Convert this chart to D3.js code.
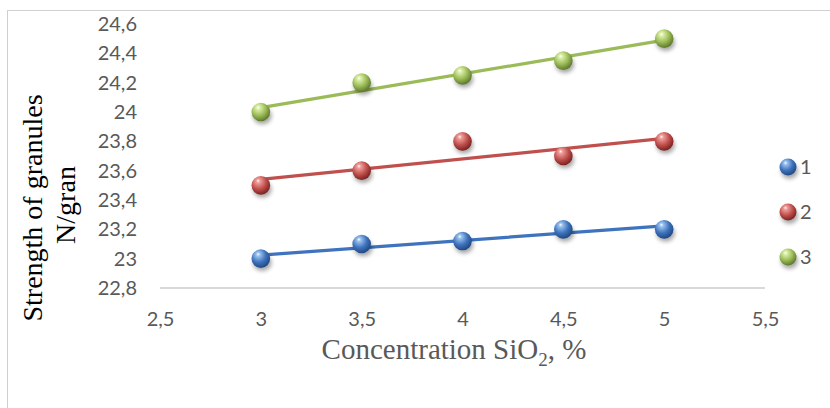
<!DOCTYPE html>
<html><head><meta charset="utf-8">
<script src="https://cdn.jsdelivr.net/npm/d3@7/dist/d3.min.js"></script>
<style>html,body{margin:0;padding:0;background:#fff;}</style>
</head><body>
<svg id="c" width="830" height="408"></svg>
<script>
const xValues = [3, 3.5, 4, 4.5, 5];
const series1 = [23.0, 23.1, 23.12, 23.2, 23.2];
const series2 = [23.5, 23.6, 23.8, 23.7, 23.8];
const series3 = [24.0, 24.2, 24.25, 24.35, 24.5];
const seriesNames = ["1", "2", "3"];
const seriesColors = ["#3f73bd", "#c0504d", "#9bbb59"];
const seriesLight = ["#9cc3f0", "#f0a09c", "#dcf0a8"];
const seriesDark = ["#1f4a85", "#7e2220", "#5f7a2a"];
const xTicks = [2.5, 3, 3.5, 4, 4.5, 5, 5.5];
const yTicks = [22.8, 23, 23.2, 23.4, 23.6, 23.8, 24, 24.2, 24.4, 24.6];

const svg = d3.select("#c");
const x = d3.scaleLinear().domain([2.5, 5.5]).range([160, 765]);
const y = d3.scaleLinear().domain([22.8, 24.6]).range([288, 24]);
const fmt = v => String(v).replace(".", ",");
const sans = "Lato, 'Open Sans', sans-serif";
const serif = "'Liberation Serif', 'Times New Roman', serif";

// outer border
svg.append("rect").attr("x", 7.5).attr("y", 10.5).attr("width", 830).attr("height", 410)
  .attr("fill", "none").attr("stroke", "#d0d0d0").attr("stroke-width", 1);

const defs = svg.append("defs");
seriesColors.forEach((c, i) => {
  const g = defs.append("radialGradient").attr("id", "g" + i)
    .attr("cx", "40%").attr("cy", "35%").attr("r", "65%").attr("fx", "35%").attr("fy", "25%");
  g.append("stop").attr("offset", "0%").attr("stop-color", "#ffffff");
  g.append("stop").attr("offset", "15%").attr("stop-color", seriesLight[i]);
  g.append("stop").attr("offset", "60%").attr("stop-color", c);
  g.append("stop").attr("offset", "100%").attr("stop-color", seriesDark[i]);
});
const f = defs.append("filter").attr("id", "sh").attr("x", "-50%").attr("y", "-50%").attr("width", "200%").attr("height", "200%");
f.append("feGaussianBlur").attr("stdDeviation", 2.2);

// x axis line
svg.append("line").attr("x1", x(2.5)).attr("x2", x(5.5)).attr("y1", y(22.8)).attr("y2", y(22.8))
  .attr("stroke", "#d9d9d9").attr("stroke-width", 2);

// y axis labels
const yAxis = d3.axisLeft(y).tickValues(yTicks).tickFormat(fmt).tickSize(0).tickPadding(0);
const yg = svg.append("g").attr("transform", "translate(137,0)").call(yAxis);
yg.select(".domain").remove();
yg.selectAll("text").attr("font-family", sans).attr("font-size", 20).attr("fill", "#595959");

const xAxis = d3.axisBottom(x).tickValues(xTicks).tickFormat(fmt).tickSize(0).tickPadding(0);
const xg = svg.append("g").attr("transform", "translate(0,312)").call(xAxis);
xg.select(".domain").remove();
xg.selectAll("text").attr("font-family", sans).attr("font-size", 20).attr("fill", "#595959");

// regression trendlines
const allSeries = [series1, series2, series3];
function linreg(xs, ys) {
  const mx = d3.mean(xs), my = d3.mean(ys);
  const b = d3.sum(xs, (v, i) => (v - mx) * (ys[i] - my)) / d3.sum(xs, v => (v - mx) * (v - mx));
  return [b, my - b * mx];
}
allSeries.forEach((s, i) => {
  const [b, a] = linreg(xValues, s);
  const x0 = d3.min(xValues), x1 = d3.max(xValues);
  svg.append("line").attr("x1", x(x0)).attr("y1", y(a + b * x0)).attr("x2", x(x1)).attr("y2", y(a + b * x1))
    .attr("stroke", seriesColors[i]).attr("stroke-width", 3.2).attr("stroke-linecap", "round");
});

function sphere(g, cx, cy, r, i) {
  g.append("ellipse").attr("cx", cx + 1.5).attr("cy", cy + 4).attr("rx", r).attr("ry", r * 0.9)
    .attr("fill", "#000").attr("opacity", 0.35).attr("filter", "url(#sh)");
  g.append("circle").attr("cx", cx).attr("cy", cy).attr("r", r).attr("fill", "url(#g" + i + ")");
}
allSeries.forEach((s, i) => {
  const g = svg.append("g");
  s.forEach((v, j) => sphere(g, x(xValues[j]), y(v), 9.3, i));
});

// legend
const lg = svg.append("g");
seriesNames.forEach((n, i) => {
  const ly = 167 + i * 45;
  sphere(lg, 788, ly, 8.5, i);
  lg.append("text").attr("x", 800).attr("y", ly + 7).text(n)
    .attr("font-family", sans).attr("font-size", 20).attr("fill", "#595959");
});

// axis titles
const xt = svg.append("text").attr("x", 454).attr("y", 359).attr("text-anchor", "middle")
  .attr("font-family", serif).attr("font-size", 29).attr("fill", "#595959");
xt.append("tspan").text("Concentration SiO");
xt.append("tspan").text("2").attr("font-size", 19).attr("dy", 7);
xt.append("tspan").text(", %").attr("dy", -7);

const yt = svg.append("g").attr("transform", "translate(0,208) rotate(-90)");
yt.append("text").attr("x", 0).attr("y", 42).attr("text-anchor", "middle").text("Strength of granules")
  .attr("font-family", serif).attr("font-size", 28).attr("fill", "#000");
yt.append("text").attr("x", 3).attr("y", 75).attr("text-anchor", "middle").text("N/gran")
  .attr("font-family", serif).attr("font-size", 28).attr("fill", "#000");
</script>
</body></html>
